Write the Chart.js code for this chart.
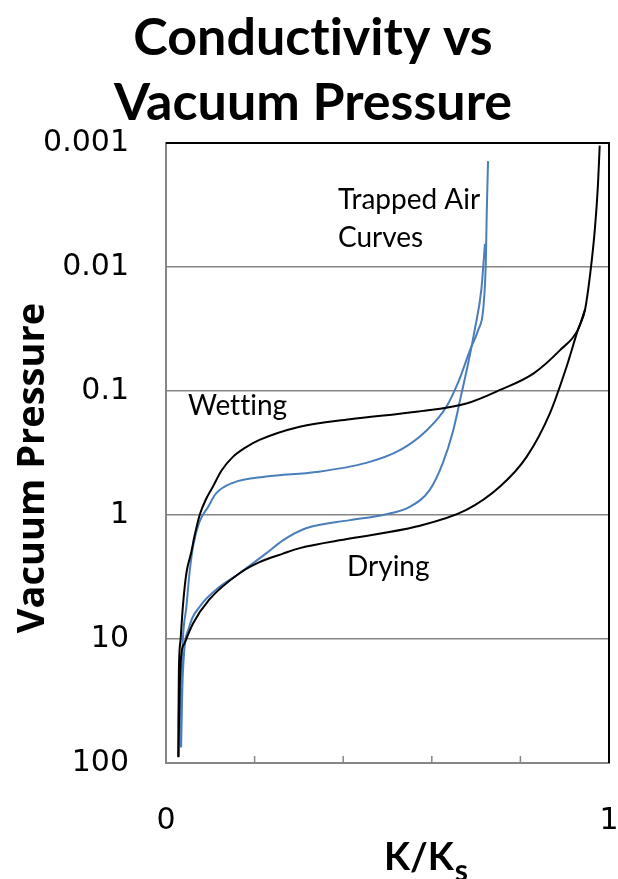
<!DOCTYPE html>
<html>
<head>
<meta charset="utf-8">
<script src="https://cdn.jsdelivr.net/npm/chart.js@4"></script>
<style>
  html, body { margin: 0; padding: 0; background: #fff; }
  canvas { display: block; }
</style>
</head>
<body>
<canvas id="chart" width="618" height="879"></canvas>
<script>
// K/Ks vs vacuum pressure
const wettingK = [0.028, 0.028, 0.029, 0.033, 0.038, 0.046, 0.057, 0.064, 0.076, 0.09, 0.106, 0.125, 0.151, 0.18, 0.211, 0.302, 0.415, 0.565, 0.678, 0.754, 0.83, 0.889, 0.93, 0.946];
const wettingP = [90, 48, 19, 10, 5.5, 2.95, 2.0, 1.5, 1.0, 0.75, 0.59, 0.44, 0.34, 0.285, 0.248, 0.194, 0.169, 0.147, 0.126, 0.098, 0.072, 0.047, 0.032, 0.022];

const dryingK = [0.028, 0.029, 0.031, 0.034, 0.042, 0.061, 0.098, 0.166, 0.211, 0.264, 0.302, 0.415, 0.565, 0.678, 0.754, 0.814, 0.867, 0.904, 0.93, 0.946, 0.958, 0.968, 0.975, 0.979];
const dryingP = [89, 57, 25, 13.9, 10.8, 7.5, 4.8, 2.95, 2.4, 2.05, 1.85, 1.55, 1.24, 0.91, 0.59, 0.34, 0.15, 0.064, 0.032, 0.022, 0.011, 0.005, 0.0022, 0.00105];

const trapWetK = [0.034, 0.034, 0.038, 0.046, 0.053, 0.061, 0.075, 0.095, 0.113, 0.151, 0.226, 0.339, 0.452, 0.528, 0.587, 0.633, 0.662, 0.686, 0.705, 0.716, 0.722, 0.724, 0.727];
const trapWetP = [75, 25, 10, 5.5, 2.95, 1.8, 1.15, 0.86, 0.67, 0.55, 0.49, 0.45, 0.38, 0.30, 0.21, 0.134, 0.081, 0.047, 0.032, 0.022, 0.009, 0.0037, 0.0014];

const trapDryK = [0.034, 0.038, 0.053, 0.076, 0.113, 0.166, 0.226, 0.264, 0.316, 0.415, 0.49, 0.55, 0.595, 0.625, 0.648, 0.667, 0.682, 0.697, 0.712, 0.72];
const trapDryP = [74, 19, 7.9, 5.5, 4.0, 2.95, 2.04, 1.6, 1.28, 1.1, 1.0, 0.86, 0.63, 0.38, 0.21, 0.105, 0.060, 0.032, 0.015, 0.0065];

const yTicks = [0.001, 0.01, 0.1, 1, 10, 100];
const xTicks = [0, 0.2, 0.4, 0.6, 0.8, 1];
const xLabelled = [0, 1];

const TICK_FONT = '"DejaVu Sans", sans-serif';
const TITLE_FONT = 'Lato, sans-serif';
const AXIS_FONT = '"Open Sans", sans-serif';
const NOTE_FONT = 'Lato, sans-serif';
const BLACK = '#000000';
const BLUE = '#4a7ebb';
const GRID = '#868686';

function pts(ks, ps) {
    return ks.map((k, i) => ({ x: k, y: ps[i] }));
}

function curve(label, ks, ps, color) {
    return {
        label,
        data: pts(ks, ps),
        showLine: true,
        borderColor: color,
        borderWidth: 2,
        pointRadius: 0,
        cubicInterpolationMode: 'monotone',
        fill: false
    };
}

// titles, notes, inner tick marks and the black top/right frame
const decor = {
    id: 'decor',
    afterDraw(chart) {
        const { ctx, chartArea: a, scales } = chart;
        ctx.save();

        // inner x tick marks
        ctx.strokeStyle = GRID;
        ctx.lineWidth = 1.5;
        xTicks.slice(1, -1).forEach(v => {
            const x = scales.x.getPixelForValue(v);
            ctx.beginPath();
            ctx.moveTo(x, a.bottom);
            ctx.lineTo(x, a.bottom - 7);
            ctx.stroke();
        });

        // top and right frame
        ctx.strokeStyle = BLACK;
        ctx.lineWidth = 2;
        ctx.beginPath();
        ctx.moveTo(a.left, a.top);
        ctx.lineTo(a.right, a.top);
        ctx.lineTo(a.right, a.bottom);
        ctx.stroke();

        ctx.fillStyle = BLACK;
        ctx.textBaseline = 'alphabetic';
        // no "ti" ligatures
        if ('textRendering' in ctx) ctx.textRendering = 'optimizeSpeed';

        // main title
        ctx.textAlign = 'center';
        ctx.font = 'bold 52px ' + TITLE_FONT;
        ctx.fillText('Conductivity vs', 313, 55);
        ctx.fillText('Vacuum Pressure', 313, 120);

        // y axis title
        ctx.save();
        ctx.translate(44, 468);
        ctx.rotate(-Math.PI / 2);
        ctx.font = 'bold 38px ' + AXIS_FONT;
        ctx.fillText('Vacuum Pressure', 0, 0);
        ctx.restore();

        // x axis title with subscript
        ctx.textAlign = 'left';
        ctx.font = 'bold 38px ' + NOTE_FONT;
        const main = 'K/K';
        const w = ctx.measureText(main).width;
        const x0 = 384;
        ctx.fillText(main, x0, 870);
        ctx.font = 'bold 30px ' + NOTE_FONT;
        ctx.fillText('s', x0 + w + 1, 881);

        // notes
        ctx.font = '28px ' + NOTE_FONT;
        ctx.fillText('Trapped Air', 338, 209);
        ctx.fillText('Curves', 338, 247);
        ctx.fillText('Wetting', 188, 415);
        ctx.fillText('Drying', 347, 576);

        ctx.restore();
    }
};

new Chart(document.getElementById('chart'), {
    type: 'scatter',
    data: {
        datasets: [
            curve('Wetting', wettingK, wettingP, BLACK),
            curve('Drying', dryingK, dryingP, BLACK),
            curve('Trapped air wetting', trapWetK, trapWetP, BLUE),
            curve('Trapped air drying', trapDryK, trapDryP, BLUE)
        ]
    },
    options: {
        responsive: false,
        animation: false,
        devicePixelRatio: 1,
        layout: { padding: { top: 143, right: 9, left: 0, bottom: 0 } },
        plugins: {
            legend: { display: false },
            tooltip: { enabled: false },
            title: { display: false }
        },
        scales: {
            x: {
                type: 'linear',
                min: 0,
                max: 1,
                afterFit: s => {
                    s.height = 116;
                    s.paddingLeft = 0;
                    s.paddingRight = 0;
                },
                afterBuildTicks: s => { s.ticks = xTicks.map(v => ({ value: v })); },
                grid: { display: false, drawTicks: false },
                border: { color: GRID, width: 2 },
                ticks: {
                    padding: 40,
                    color: BLACK,
                    font: { family: TICK_FONT, size: 30 },
                    maxRotation: 0,
                    autoSkip: false,
                    callback: v => xLabelled.includes(v) ? String(v) : ''
                }
            },
            y: {
                type: 'logarithmic',
                reverse: true,
                min: 0.001,
                max: 100,
                afterFit: s => {
                    s.width = 166;
                    s.paddingTop = 0;
                    s.paddingBottom = 0;
                },
                afterBuildTicks: s => { s.ticks = yTicks.map(v => ({ value: v })); },
                grid: { color: GRID, lineWidth: 1.5, drawTicks: false },
                border: { color: GRID, width: 2 },
                ticks: {
                    padding: 37,
                    color: BLACK,
                    font: { family: TICK_FONT, size: 30 },
                    autoSkip: false,
                    callback: v => String(v)
                }
            }
        }
    },
    plugins: [decor]
});
</script>
</body>
</html>
